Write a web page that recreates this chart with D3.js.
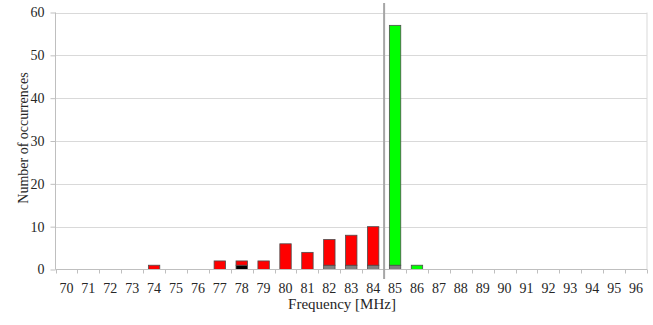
<!DOCTYPE html>
<html>
<head>
<meta charset="utf-8">
<script src="https://cdn.jsdelivr.net/npm/d3@7"></script>
<style>
  body { margin: 0; background: #fff; }
</style>
</head>
<body>
<div id="graph"></div>
<script>
// frequencies in MHz, one bar slot each
var categories = ["70","71","72","73","74","75","76","77","78","79","80","81","82","83",
                  "84","85","86","87","88","89","90","91","92","93","94","95","96"]
// counts per frequency, stacked bottom to top: gray, black, red, green
var grayVals  = [0,0,0,0,0,0,0,0,0,0,0,0,1,1,1,1,0,0,0,0,0,0,0,0,0,0,0]
var blackVals = [0,0,0,0,0,0,0,0,1,0,0,0,0,0,0,0,0,0,0,0,0,0,0,0,0,0,0]
var redVals   = [0,0,0,0,1,0,0,2,1,2,6,4,6,7,9,0,0,0,0,0,0,0,0,0,0,0,0]
var greenVals = [0,0,0,0,0,0,0,0,0,0,0,0,0,0,0,56,1,0,0,0,0,0,0,0,0,0,0]
var yTicks = [0,10,20,30,40,50,60]
var markerBetween = ["84","85"]

var width = 653, height = 325
var margin = {top: 12.5, left: 55.5, right: 6, bottom: 55.5}
var chartWidth = width - margin.left - margin.right
var chartHeight = height - margin.top - margin.bottom
var fontFam = "Liberation Serif"

var svg = d3.select("#graph").append("svg")
    .attr("width", width).attr("height", height)
    .style("font-family", fontFam)

var keys = ["gray","black","red","green"]
var colors = {gray: "#808080", black: "#000000", red: "#ff0000", green: "#00ff00"}

var rows = categories.map(function(c, i) {
    return {cat: c, gray: grayVals[i], black: blackVals[i], red: redVals[i], green: greenVals[i]}
})
var series = d3.stack().keys(keys)(rows)

var x = d3.scaleBand()
    .domain(categories)
    .range([margin.left, margin.left + chartWidth])
    .paddingInner(0.48)
    .paddingOuter(0.24)

var y = d3.scaleLinear()
    .domain([0, 60])
    .range([margin.top + chartHeight, margin.top])

// gridlines
svg.append("g").selectAll("line")
    .data(yTicks.slice(1))
    .enter().append("line")
    .attr("x1", margin.left).attr("x2", margin.left + chartWidth)
    .attr("y1", function(d) { return Math.round(y(d)) + 0.5 })
    .attr("y2", function(d) { return Math.round(y(d)) + 0.5 })
    .attr("stroke", "#d9d9d9")

// right border of plot area
svg.append("line")
    .attr("x1", margin.left + chartWidth).attr("x2", margin.left + chartWidth)
    .attr("y1", y(60)).attr("y2", y(0))
    .attr("stroke", "#d9d9d9")

// bars
var layer = svg.append("g").selectAll("g")
    .data(series)
    .enter().append("g")
    .attr("fill", function(d) { return colors[d.key] })

layer.selectAll("rect")
    .data(function(d) { return d.filter(function(p) { return p[1] > p[0] }) })
    .enter().append("rect")
    .attr("x", function(d) { return x(d.data.cat) })
    .attr("width", x.bandwidth())
    .attr("y", function(d) { return y(d[1]) })
    .attr("height", function(d) { return y(d[0]) - y(d[1]) })
    .attr("stroke", "#4d4d4d")
    .attr("stroke-width", 0.8)

// y axis
var yAxis = svg.append("g")
    .attr("transform", "translate(" + margin.left + ",0)")
    .call(d3.axisLeft(y).tickValues(yTicks).tickSize(5).tickPadding(6))
yAxis.attr("font-family", null).attr("font-size", null)
yAxis.select(".domain").remove()
yAxis.selectAll("line").attr("stroke", "#bfbfbf")
yAxis.selectAll("text").attr("fill", "#262626")
    .style("font-family", fontFam).style("font-size", "14px")

svg.append("line")
    .attr("x1", margin.left).attr("x2", margin.left)
    .attr("y1", y(60)).attr("y2", y(0))
    .attr("stroke", "#bfbfbf")

// x axis: line, boundary ticks, labels
var x0 = x.range()[0]
svg.append("line")
    .attr("x1", x0).attr("x2", margin.left + chartWidth)
    .attr("y1", y(0)).attr("y2", y(0))
    .attr("stroke", "#bfbfbf")

svg.append("g").selectAll("line")
    .data(d3.range(categories.length + 1))
    .enter().append("line")
    .attr("x1", function(i) { return Math.round(x0 + i * x.step()) + 0.5 })
    .attr("x2", function(i) { return Math.round(x0 + i * x.step()) + 0.5 })
    .attr("y1", y(0)).attr("y2", y(0) + 4)
    .attr("stroke", "#bfbfbf")

var xAxis = svg.append("g")
    .attr("transform", "translate(0," + y(0) + ")")
    .call(d3.axisBottom(x).tickSize(0).tickPadding(14))
xAxis.attr("font-family", null).attr("font-size", null)
xAxis.select(".domain").remove()
xAxis.selectAll("text").attr("fill", "#262626")
    .style("font-family", fontFam).style("font-size", "14px")

// marker line between 84 and 85 MHz
var mx = x(markerBetween[1]) - (x.step() - x.bandwidth()) / 2
svg.append("line")
    .attr("x1", mx).attr("x2", mx)
    .attr("y1", 3).attr("y2", 279)
    .attr("stroke", "#a6a6a6")
    .attr("stroke-width", 2)

// axis titles
svg.append("text")
    .attr("x", 342).attr("y", 309)
    .attr("text-anchor", "middle")
    .attr("fill", "#262626")
    .style("font-family", fontFam).style("font-size", "15px")
    .text("Frequency [MHz]")

svg.append("text")
    .attr("transform", "translate(28,138) rotate(-90)")
    .attr("text-anchor", "middle")
    .attr("fill", "#262626")
    .style("font-family", fontFam).style("font-size", "14px")
    .text("Number of occurrences")
</script>
</body>
</html>
